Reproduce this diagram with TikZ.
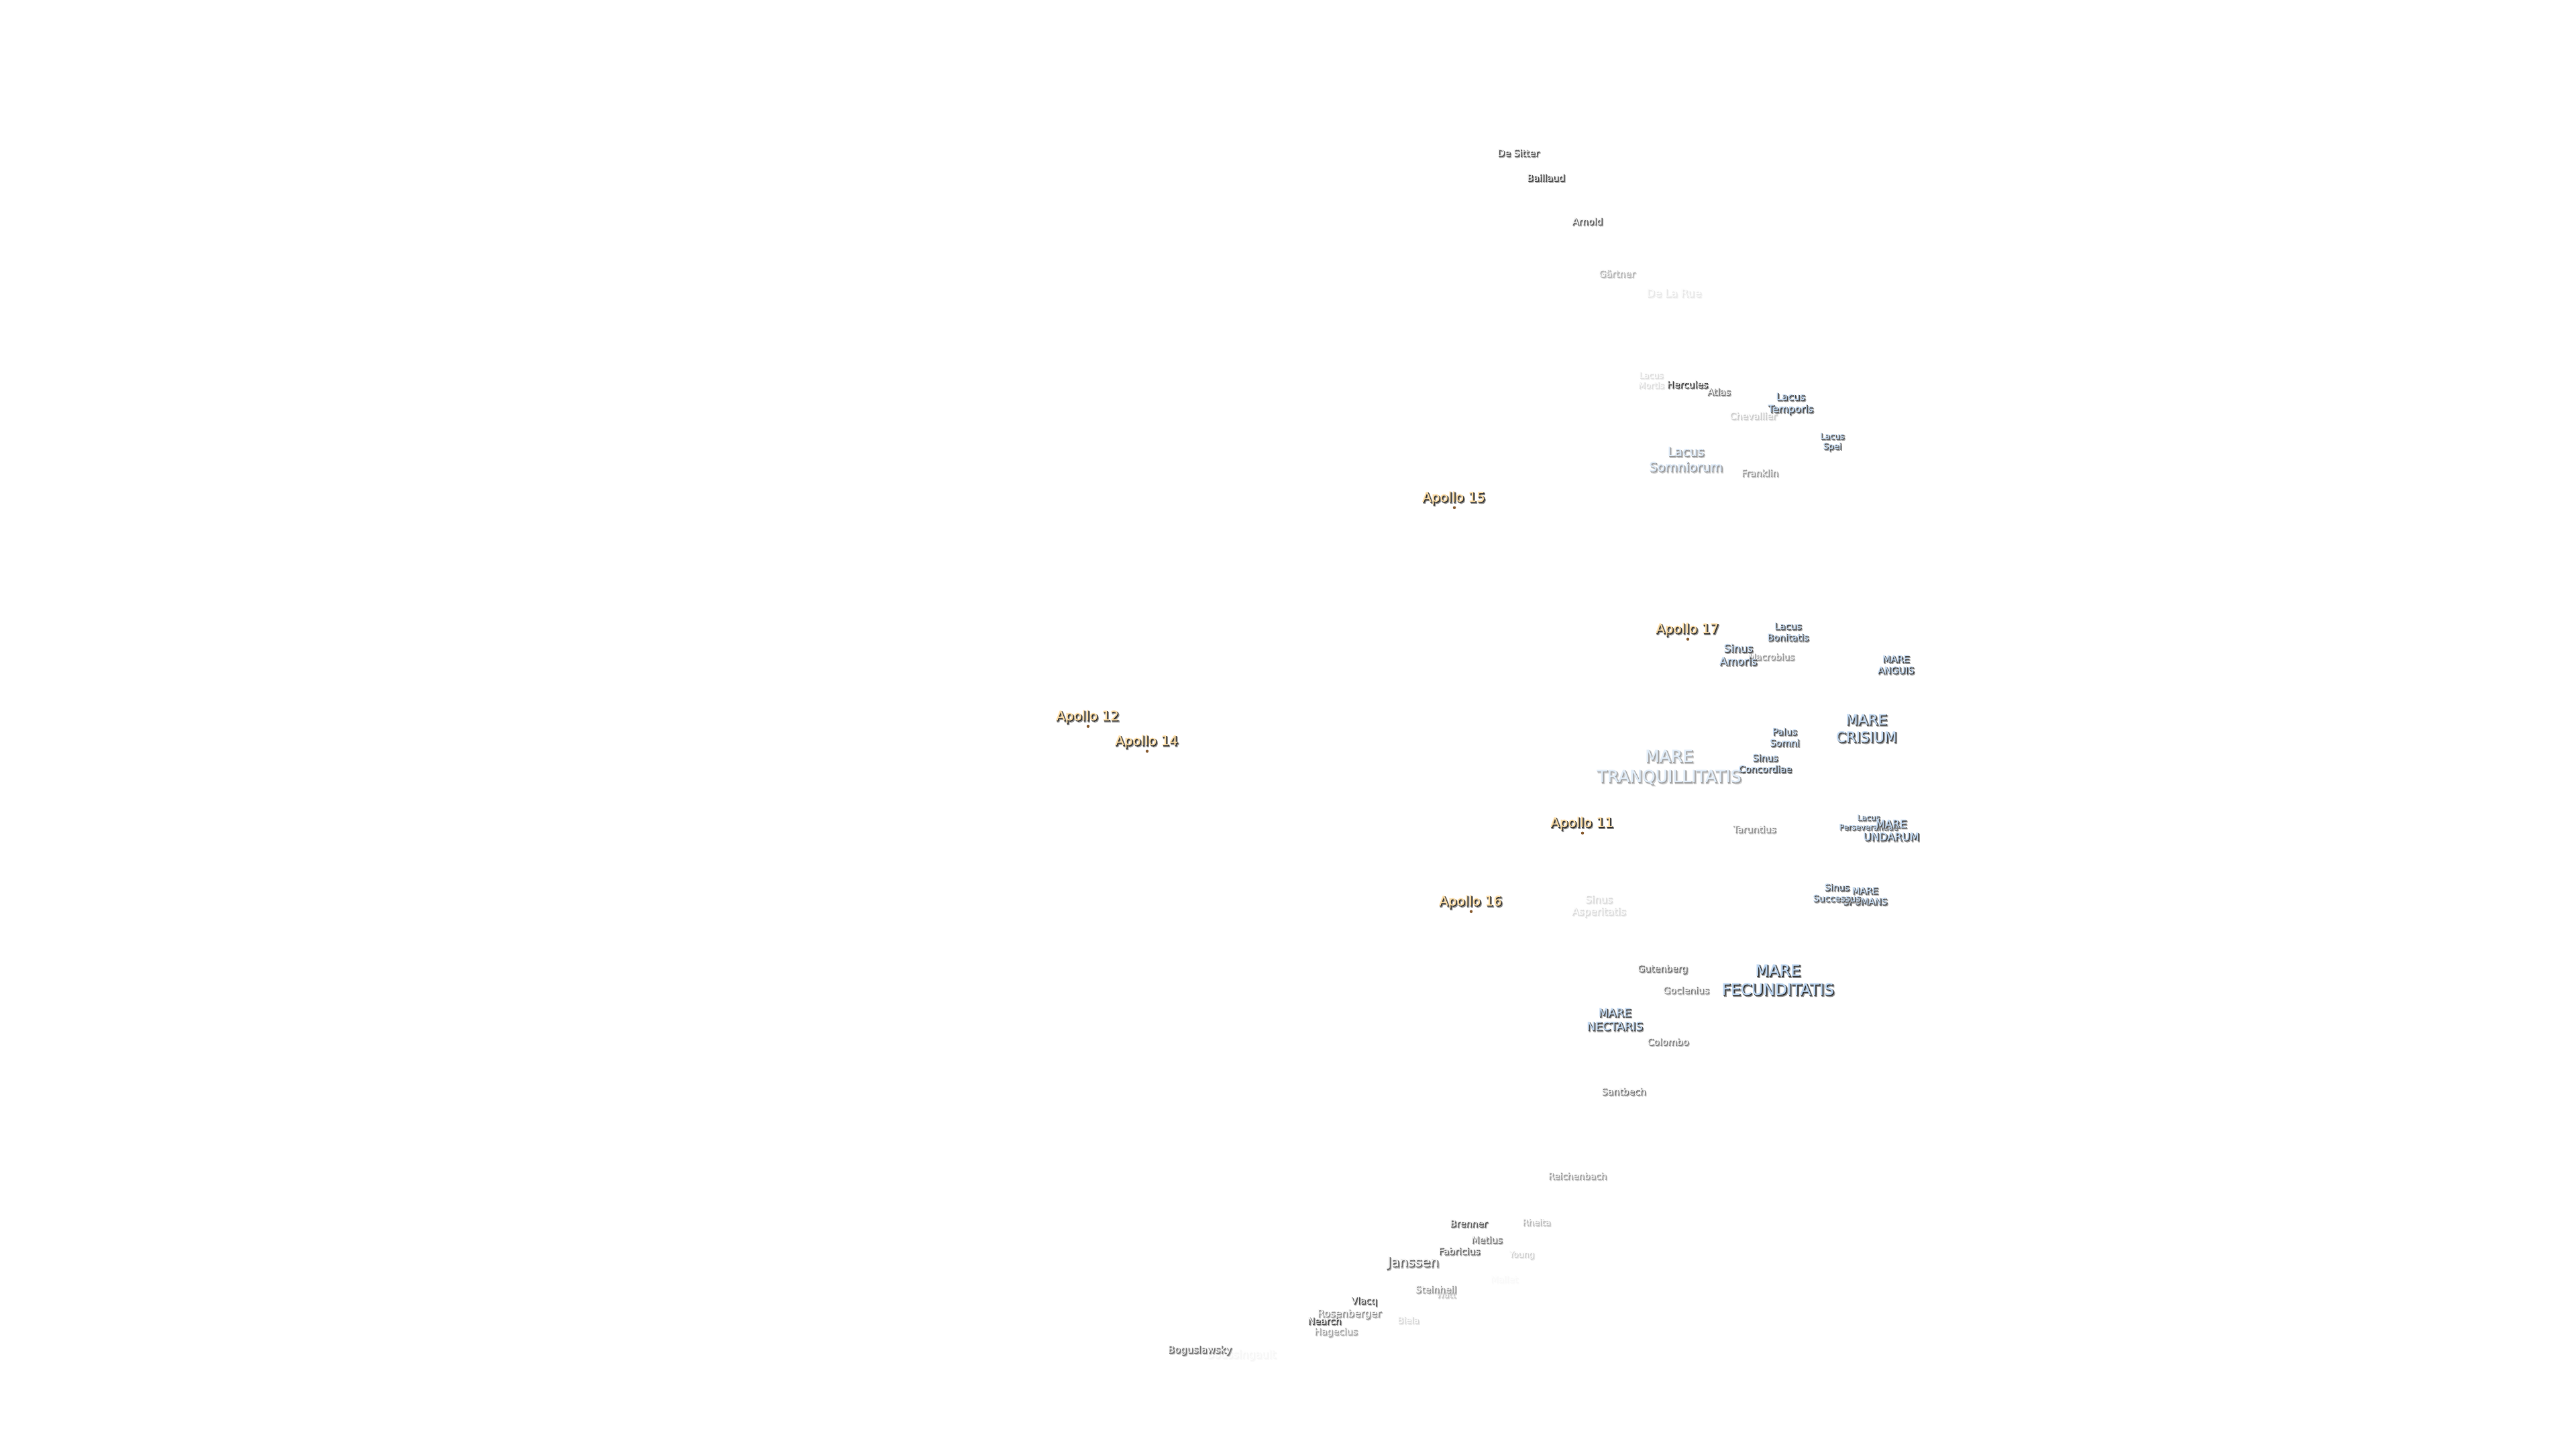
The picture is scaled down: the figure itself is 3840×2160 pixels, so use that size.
\documentclass[tikz,border=0pt]{standalone}
\usepackage{fontspec}
\newfontfamily\lblfont[FakeBold=0.4]{DejaVu Sans}
\newfontfamily\lblhalo[FakeBold=3.2]{DejaVu Sans}
\newfontfamily\lblblur[FakeBold=6.5]{DejaVu Sans}
\definecolor{sea}{HTML}{BCD6F2}
\definecolor{crat}{HTML}{F2F2F2}
\definecolor{apo}{HTML}{FFDFA6}
\definecolor{edge}{HTML}{2C2C2C}
\definecolor{glow}{HTML}{959595}
\tikzset{
  lbl/.style={inner sep=0pt,outer sep=0pt,align=center,anchor=center},
  apodot/.style={circle,inner sep=0pt,minimum size=1.1pt,fill=#1}
}
% id, x, y, size(px), fill colour, opacity percent, text
\newcommand{\lab}[7]{%
  \pgfmathsetmacro{\szpt}{#4*0.25}%
  \pgfmathsetmacro{\ldpt}{#4*0.25*1.2}%
  \node[lbl,text=glow!#6!white,xshift=0.55pt,yshift=-0.2pt,font=\lblblur\fontsize{\szpt}{\ldpt}\selectfont] (#1-b) at (#2,#3) {#7};
  \node[lbl,text=edge!#6!white,xshift=0.3pt,yshift=0.1pt,font=\lblhalo\fontsize{\szpt}{\ldpt}\selectfont] (#1-h) at (#2,#3) {#7};
  \node[lbl,text=#5!#6!white,yshift=0.4pt,font=\lblfont\fontsize{\szpt}{\ldpt}\selectfont] (#1) at (#2,#3) {#7};
}
\newcommand{\apollo}[4]{%
  \lab{#1}{#2}{#3}{20}{apo}{100}{#4}
  \node[apodot=brown!70!black] (#1-dot) at ([xshift=0.25pt,yshift=-3.6pt]#1.center) {};
}
\begin{document}
\begin{tikzpicture}[x=0.25pt,y=-0.25pt]
\useasboundingbox (0,0) rectangle (3840,2160);
\fill[white] (0,0) rectangle (3840,2160);
\lab{desitter}{2263}{229}{14}{crat}{85}{De Sitter}
\lab{baillaud}{2304}{266}{14}{crat}{90}{Baillaud}
\lab{arnold}{2366}{331}{14}{crat}{80}{Arnold}
\lab{gartner}{2410}{409}{14}{crat}{38}{Gärtner}
\lab{delarue}{2495}{438}{16}{crat}{12}{De La Rue}
\lab{lmortis}{2461}{568}{12.5}{crat}{17}{Lacus\\Mortis}
\lab{hercules}{2515}{574}{14}{crat}{95}{Hercules}
\lab{atlas}{2562}{585}{14}{crat}{65}{Atlas}
\lab{chevallier}{2613}{621}{14}{crat}{25}{Chevallier}
\lab{ltemporis}{2669}{603}{15}{sea}{90}{Lacus\\Temporis}
\lab{lspei}{2731}{660}{12.5}{sea}{85}{Lacus\\Spei}
\lab{lsomn}{2513}{686}{19}{sea}{50}{Lacus\\Somniorum}
\lab{franklin}{2623}{706}{14}{crat}{50}{Franklin}
\apollo{ap15}{2167}{744}{Apollo 15}
\apollo{ap17}{2515}{940}{Apollo 17}
\lab{lbonit}{2665}{943}{14}{sea}{85}{Lacus\\Bonitatis}
\lab{macrob}{2640}{980}{13.5}{crat}{50}{Macrobius}
\lab{samor}{2591}{977}{16}{sea}{85}{Sinus\\Amoris}
\lab{manguis}{2826}{992}{14}{sea}{90}{MARE\\ANGUIS}
\apollo{ap12}{1621}{1070}{Apollo 12}
\apollo{ap14}{1709}{1107}{Apollo 14}
\lab{mcrisium}{2782}{1087}{21.5}{sea}{90}{MARE\\CRISIUM}
\lab{psomni}{2660}{1100}{14}{sea}{85}{Palus\\Somni}
\lab{mtranq}{2488}{1145}{25}{sea}{45}{MARE\\TRANQUILLITATIS}
\lab{sconc}{2631}{1139}{14}{sea}{85}{Sinus\\Concordiae}
\apollo{ap11}{2358}{1229}{Apollo 11}
\lab{lpers}{2785}{1227}{11.7}{sea}{85}{Lacus\\Perseverantiae}
\lab{mundarum}{2819}{1239}{16}{sea}{90}{MARE\\UNDARUM}
\lab{taruntius}{2615}{1237}{14}{crat}{55}{Taruntius}
\lab{mspumans}{2780}{1337}{13.5}{sea}{85}{MARE\\SPUMANS}
\lab{ssucc}{2738}{1332}{13.7}{sea}{85}{Sinus\\Successus}
\lab{sasper}{2383}{1352}{15}{crat}{18}{Sinus\\Asperitatis}
\apollo{ap16}{2192}{1346}{Apollo 16}
\lab{gutenberg}{2478}{1446}{14}{crat}{70}{Gutenberg}
\lab{mfecund}{2650}{1462}{23.5}{sea}{100}{MARE\\FECUNDITATIS}
\lab{goclenius}{2513}{1477}{14}{crat}{60}{Goclenius}
\lab{mnect}{2407}{1521}{17}{sea}{90}{MARE\\NECTARIS}
\lab{colombo}{2486}{1554}{14}{crat}{60}{Colombo}
\lab{santbech}{2420}{1628}{14}{crat}{65}{Santbech}
\lab{reichen}{2351}{1754}{13.6}{crat}{48}{Reichenbach}
\lab{brenner}{2189}{1825}{14}{crat}{80}{Brenner}
\lab{rheita}{2290}{1823}{13}{crat}{35}{Rheita}
\lab{metius}{2216}{1849}{14}{crat}{65}{Metius}
\lab{fabricius}{2175}{1866}{14}{crat}{75}{Fabricius}
\lab{young}{2268}{1872}{12.5}{crat}{22}{Young}
\lab{janssen}{2106}{1884}{20}{crat}{75}{Janssen}
\lab{mallet}{2242}{1908}{13.5}{crat}{3}{Mallet}
\lab{watt}{2155}{1931}{12.5}{crat}{30}{Watt}
\lab{steinheil}{2140}{1923}{14}{crat}{52}{Steinheil}
\lab{vlacq}{2033}{1941}{14}{crat}{85}{Vlacq}
\lab{rosenb}{2011}{1960}{15}{crat}{52}{Rosenberger}
\lab{nearch}{1974}{1970}{14}{crat}{90}{Nearch}
\lab{biela}{2099}{1969}{13}{crat}{20}{Biela}
\lab{hagecius}{1991}{1987}{14}{crat}{45}{Hagecius}
\lab{bouss}{1850}{2021}{16}{crat}{5}{Boussingault}
\lab{bogus}{1788}{2014}{14.7}{crat}{70}{Boguslawsky}
\end{tikzpicture}
\end{document}
